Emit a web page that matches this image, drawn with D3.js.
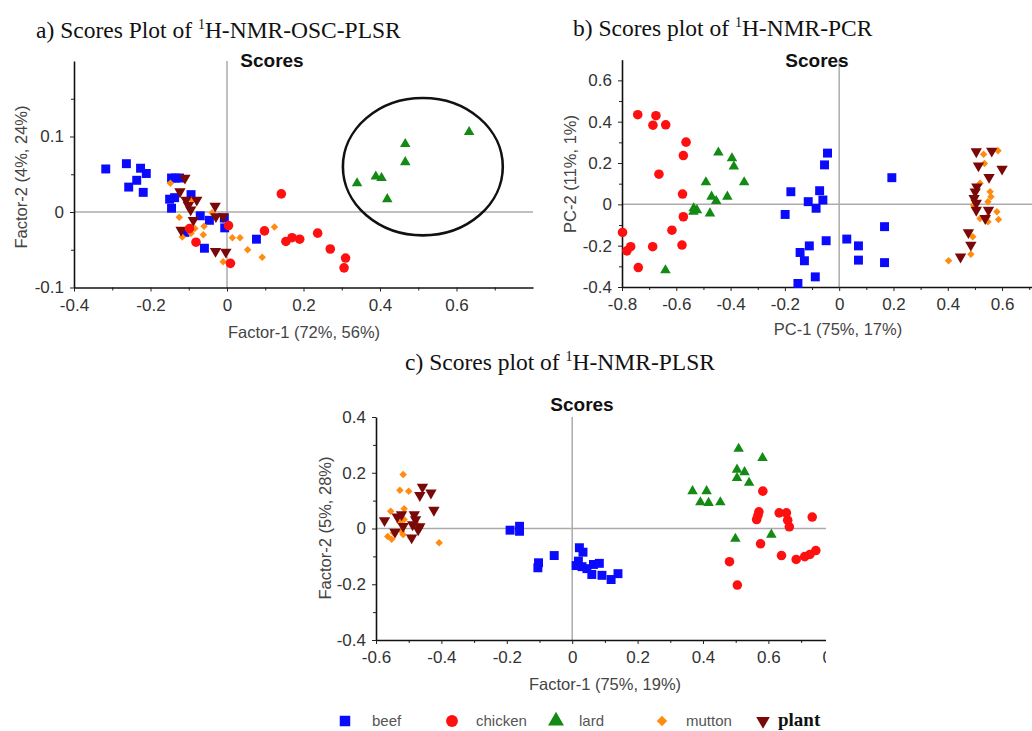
<!DOCTYPE html>
<html>
<head>
<meta charset="utf-8">
<script src="https://cdn.jsdelivr.net/npm/d3@7"></script>
<style>
  body { margin: 0; background: #fff; }
  svg { display: block; }
  .tick text { font-family: "Liberation Sans", Arial, sans-serif; }
</style>
</head>
<body>
<svg id="chart" width="1032" height="731"></svg>
<script>
// ---- categories / legend ----
const categories = ["beef", "chicken", "lard", "mutton", "plant"];
const legendLabels = ["beef", "chicken", "lard", "mutton", "plant"];

// ---- a) OSC-PLSR scores (Factor-1, Factor-2) ----
const oscBeef = [[-0.317,0.057],[-0.263,0.064],[-0.226,0.058],[-0.211,0.051],[-0.236,0.042],[-0.257,0.033],[-0.219,0.026],[-0.145,0.045],[-0.135,0.045],[-0.124,0.045],[-0.150,0.017],[-0.137,0.019],[-0.145,0.005],[-0.094,0.023],[-0.070,-0.005],[-0.046,-0.011],[-0.007,-0.008],[-0.006,-0.021],[-0.110,-0.027],[-0.059,-0.048],[0.077,-0.036]];
const oscChicken = [[0.142,0.024],[0.004,-0.018],[-0.098,-0.022],[-0.081,-0.040],[0.009,-0.068],[0.098,-0.025],[0.154,-0.039],[0.170,-0.034],[0.190,-0.036],[0.237,-0.028],[0.270,-0.049],[0.310,-0.061],[0.306,-0.074]];
const oscLard = [[0.340,0.038],[0.389,0.047],[0.404,0.045],[0.419,0.017],[0.466,0.066],[0.466,0.090],[0.633,0.106]];
const oscMutton = [[-0.148,0.038],[-0.092,0.016],[-0.125,-0.007],[-0.084,-0.022],[-0.060,-0.019],[-0.062,-0.030],[-0.117,-0.033],[-0.094,-0.028],[-0.039,-0.001],[0.014,-0.034],[0.034,-0.034],[0.054,-0.050],[0.092,-0.060],[0.124,-0.020],[-0.010,-0.066]];
const oscPlant = [[-0.110,0.045],[-0.123,0.027],[-0.107,0.016],[-0.079,0.016],[-0.095,0.003],[-0.101,0.009],[-0.088,-0.011],[-0.031,0.008],[-0.029,-0.006],[-0.010,-0.006],[-0.120,-0.024],[-0.030,-0.052],[-0.003,-0.053]];
// ellipse drawn round the lard group (centre and semi-axes in data units)
const lardEllipse = { cx: 0.512, cy: 0.060, rx: 0.209, ry: 0.091 };

// ---- b) PCR scores (PC-1, PC-2) ----
const pcrBeef = [[-0.043,0.248],[-0.054,0.191],[-0.178,0.061],[-0.072,0.066],[-0.114,0.013],[-0.060,0.021],[-0.085,-0.019],[-0.199,-0.049],[0.194,0.129],[0.167,-0.108],[-0.048,-0.176],[0.028,-0.168],[0.071,-0.201],[-0.110,-0.201],[-0.144,-0.233],[-0.128,-0.273],[0.071,-0.270],[0.167,-0.282],[-0.088,-0.351],[-0.152,-0.383]];
const pcrChicken = [[-0.742,0.434],[-0.675,0.429],[-0.686,0.383],[-0.639,0.385],[-0.564,0.301],[-0.574,0.236],[-0.664,0.146],[-0.577,0.050],[-0.574,-0.060],[-0.798,-0.136],[-0.768,-0.205],[-0.782,-0.225],[-0.687,-0.205],[-0.616,-0.125],[-0.579,-0.197],[-0.740,-0.306]];
const pcrLard = [[-0.445,0.251],[-0.395,0.223],[-0.388,0.183],[-0.491,0.107],[-0.350,0.107],[-0.470,0.037],[-0.453,0.016],[-0.412,0.037],[-0.536,-0.019],[-0.524,-0.028],[-0.537,-0.036],[-0.476,-0.044],[-0.640,-0.319]];
const pcrMutton = [[0.532,0.242],[0.585,0.259],[0.535,0.198],[0.519,0.102],[0.556,0.061],[0.559,0.037],[0.548,0.013],[0.581,-0.036],[0.587,-0.073],[0.519,-0.068],[0.544,-0.063],[0.548,-0.084],[0.492,-0.157],[0.485,-0.241],[0.403,-0.273],[0.495,-0.003]];
const pcrPlant = [[0.505,0.255],[0.562,0.258],[0.513,0.187],[0.600,0.171],[0.552,0.131],[0.507,0.085],[0.501,0.061],[0.497,0.029],[0.505,0.006],[0.505,-0.028],[0.550,-0.028],[0.538,-0.068],[0.476,-0.136],[0.485,-0.197],[0.447,-0.254]];

// ---- c) PLSR scores (Factor-1, Factor-2) ----
const plsrBeef = [[-0.190,-0.006],[-0.161,0.008],[-0.161,-0.010],[-0.055,-0.097],[-0.103,-0.123],[-0.105,-0.141],[0.022,-0.069],[0.033,-0.085],[0.019,-0.117],[0.012,-0.133],[0.030,-0.137],[0.045,-0.144],[0.065,-0.129],[0.083,-0.125],[0.060,-0.165],[0.091,-0.168],[0.119,-0.183],[0.140,-0.162]];
const plsrChicken = [[0.583,0.134],[0.571,0.060],[0.568,0.047],[0.564,0.032],[0.633,0.056],[0.655,0.056],[0.659,0.030],[0.664,0.006],[0.734,0.041],[0.576,-0.055],[0.481,-0.119],[0.505,-0.203],[0.640,-0.097],[0.685,-0.111],[0.711,-0.101],[0.727,-0.093],[0.745,-0.079]];
const plsrLard = [[0.509,0.286],[0.582,0.253],[0.504,0.211],[0.527,0.202],[0.504,0.181],[0.541,0.164],[0.368,0.134],[0.411,0.134],[0.392,0.094],[0.417,0.092],[0.453,0.094],[0.499,-0.037],[0.609,-0.022]];
const plsrMutton = [[-0.517,0.194],[-0.527,0.137],[-0.500,0.134],[-0.555,0.062],[-0.514,0.071],[-0.514,0.032],[-0.471,0.011],[-0.547,-0.015],[-0.517,-0.022],[-0.552,-0.039],[-0.494,-0.033],[-0.407,-0.051],[-0.522,-0.010],[-0.564,-0.029],[-0.527,0.022]];
const plsrPlant = [[-0.458,0.149],[-0.466,0.119],[-0.432,0.128],[-0.423,0.066],[-0.574,0.029],[-0.535,0.042],[-0.522,0.050],[-0.483,0.050],[-0.479,0.032],[-0.488,0.014],[-0.517,0.008],[-0.542,-0.013],[-0.471,-0.004],[-0.491,-0.033],[-0.466,0.007]];

// ---- tick values ----
const aXTicks = [-0.4, -0.2, 0, 0.2, 0.4, 0.6];
const aYTicks = [-0.1, 0, 0.1];
const bXTicks = [-0.8, -0.6, -0.4, -0.2, 0, 0.2, 0.4, 0.6];
const bYTicks = [-0.4, -0.2, 0, 0.2, 0.4, 0.6];
const cXTicks = [-0.6, -0.4, -0.2, 0, 0.2, 0.4, 0.6, 0.8];
const cYTicks = [-0.4, -0.2, 0, 0.2, 0.4];

// ---- styling ----
const SANS = '"Liberation Sans", Arial, sans-serif';
const SERIF = '"Liberation Serif", "Times New Roman", serif';
const color = { beef: "#0a0aff", chicken: "#ff1010", lard: "#138a13", mutton: "#ff8c10", plant: "#7a0808" };
// mutton uses a square turned 45 degrees (a square diamond); plant uses an inverted triangle
const symbolType = { beef: d3.symbolSquare, chicken: d3.symbolCircle, lard: d3.symbolTriangle, mutton: d3.symbolSquare, plant: d3.symbolTriangle };
const symbolRotate = { beef: 0, chicken: 0, lard: 0, mutton: 45, plant: 180 };
const symbolSize = { beef: 80, chicken: 72, lard: 48, mutton: 28, plant: 56 };

const svg = d3.select("#chart");
const defs = svg.append("defs");

const fmt = d => d === 0 ? "0" : String(+d.toFixed(2));
const steps = (a, b, s) => d3.range(Math.round((b - a) / s) + 1).map(i => +(a + i * s).toFixed(3));

function drawPanel(cfg) {
  const g = svg.append("g");
  if (cfg.clipX) {
    defs.append("clipPath").attr("id", cfg.id + "-clip")
      .append("rect").attr("x", 0).attr("y", 0).attr("width", cfg.clipX).attr("height", 731);
    g.attr("clip-path", `url(#${cfg.id}-clip)`);
  }
  const x = d3.scaleLinear().domain(cfg.xDomain).range(cfg.xRange);
  const y = d3.scaleLinear().domain(cfg.yDomain).range(cfg.yRange);
  const [yBottom, yTop] = cfg.yRange;
  const [xLeft, xRight] = cfg.xRange;

  // zero reference lines
  g.append("line").attr("x1", x(0)).attr("x2", x(0)).attr("y1", yTop).attr("y2", yBottom)
    .attr("stroke", "#ababab").attr("stroke-width", 1.5);
  g.append("line").attr("x1", xLeft).attr("x2", xRight).attr("y1", y(0)).attr("y2", y(0))
    .attr("stroke", "#ababab").attr("stroke-width", 1.5);

  // minor ticks
  g.append("g").attr("transform", `translate(0,${yBottom})`)
    .call(d3.axisBottom(x).tickValues(cfg.xMinor).tickSize(3).tickFormat(""))
    .call(a => a.select(".domain").remove())
    .call(a => a.selectAll("line").attr("stroke", "#222"));
  g.append("g").attr("transform", `translate(${xLeft},0)`)
    .call(d3.axisLeft(y).tickValues(cfg.yMinor).tickSize(3).tickFormat(""))
    .call(a => a.select(".domain").remove())
    .call(a => a.selectAll("line").attr("stroke", "#222"));

  // major axes
  g.append("g").attr("transform", `translate(0,${yBottom})`)
    .call(d3.axisBottom(x).tickValues(cfg.xTicks).tickSize(4).tickSizeOuter(0).tickPadding(7).tickFormat(fmt))
    .call(a => a.select(".domain").attr("stroke", "#111").attr("stroke-width", 1.6))
    .call(a => a.selectAll(".tick line").attr("stroke", "#222"))
    .call(a => a.selectAll(".tick text").attr("font-size", 17).attr("fill", "#333"));
  g.append("g").attr("transform", `translate(${xLeft},0)`)
    .call(d3.axisLeft(y).tickValues(cfg.yTicks).tickSize(4).tickSizeOuter(0).tickPadding(6).tickFormat(fmt))
    .call(a => a.select(".domain").attr("stroke", "#111").attr("stroke-width", 1.6))
    .call(a => a.selectAll(".tick line").attr("stroke", "#222"))
    .call(a => a.selectAll(".tick text").attr("font-size", 17).attr("fill", "#333"));

  // extra decoration (ellipse)
  if (cfg.ellipse) {
    const e = cfg.ellipse;
    g.append("ellipse")
      .attr("cx", x(e.cx)).attr("cy", y(e.cy))
      .attr("rx", x(e.cx + e.rx) - x(e.cx)).attr("ry", y(e.cy - e.ry) - y(e.cy))
      .attr("fill", "none").attr("stroke", "#111").attr("stroke-width", 2.6);
  }

  // score points
  cfg.series.forEach(([cat, data]) => {
    const sym = d3.symbol().type(symbolType[cat]).size(symbolSize[cat]);
    g.append("g").selectAll("path").data(data).join("path")
      .attr("transform", d => `translate(${x(d[0])},${y(d[1])}) rotate(${symbolRotate[cat]})`)
      .attr("d", sym)
      .attr("fill", color[cat]);
  });

  // "Scores" heading
  svg.append("text").attr("x", cfg.scoresX).attr("y", cfg.scoresY)
    .attr("text-anchor", "middle").attr("font-family", SANS).attr("font-weight", "bold")
    .attr("font-size", 19).attr("fill", "#111").text("Scores");

  // axis titles
  svg.append("text").attr("x", cfg.xLabelPos[0]).attr("y", cfg.xLabelPos[1])
    .attr("text-anchor", "middle").attr("font-family", SANS).attr("font-size", 16.5)
    .attr("fill", "#444").text(cfg.xLabel);
  svg.append("text").attr("transform", `translate(${cfg.yLabelPos[0]},${cfg.yLabelPos[1]}) rotate(-90)`)
    .attr("text-anchor", "middle").attr("font-family", SANS).attr("font-size", 16.5)
    .attr("fill", "#444").text(cfg.yLabel);

  // panel title with superscript
  const t = svg.append("text").attr("x", cfg.titlePos[0]).attr("y", cfg.titlePos[1])
    .attr("font-family", SERIF).attr("font-size", 23.5).attr("fill", "#111");
  t.append("tspan").text(cfg.titlePre);
  t.append("tspan").attr("font-size", 14).attr("dy", -9).text("1");
  t.append("tspan").attr("dy", 9).text(cfg.titlePost);
}

drawPanel({
  id: "osc",
  xDomain: [-0.4, 0.8], xRange: [74, 533],
  yDomain: [-0.1, 0.2], yRange: [287.5, 61],
  xTicks: aXTicks, xMinor: steps(-0.3, 0.7, 0.2),
  yTicks: aYTicks, yMinor: [-0.05, 0.05, 0.15],
  series: [["beef", oscBeef], ["mutton", oscMutton], ["plant", oscPlant], ["chicken", oscChicken], ["lard", oscLard]],
  ellipse: lardEllipse,
  scoresX: 272, scoresY: 67,
  xLabel: "Factor-1 (72%, 56%)", xLabelPos: [304, 338],
  yLabel: "Factor-2 (4%, 24%)", yLabelPos: [27, 177],
  titlePre: "a) Scores Plot of ", titlePost: "H-NMR-OSC-PLSR", titlePos: [36, 38]
});

drawPanel({
  id: "pcr",
  xDomain: [-0.8, 0.76], xRange: [622, 1045.5],
  yDomain: [-0.4, 0.7], yRange: [287, 59.7],
  xTicks: bXTicks, xMinor: steps(-0.7, 0.7, 0.2),
  yTicks: bYTicks, yMinor: steps(-0.3, 0.5, 0.2),
  series: [["beef", pcrBeef], ["chicken", pcrChicken], ["lard", pcrLard], ["mutton", pcrMutton], ["plant", pcrPlant]],
  scoresX: 817, scoresY: 67,
  xLabel: "PC-1 (75%, 17%)", xLabelPos: [838, 335],
  yLabel: "PC-2 (11%, 1%)", yLabelPos: [576, 174],
  titlePre: "b) Scores plot of ", titlePost: "H-NMR-PCR", titlePos: [573, 36]
});

drawPanel({
  id: "plsr",
  xDomain: [-0.6, 0.8], xRange: [376, 833.8],
  yDomain: [-0.4, 0.4], yRange: [640, 417],
  xTicks: cXTicks, xMinor: steps(-0.5, 0.7, 0.2),
  yTicks: cYTicks, yMinor: steps(-0.3, 0.3, 0.2),
  clipX: 826,
  series: [["beef", plsrBeef], ["mutton", plsrMutton], ["plant", plsrPlant], ["lard", plsrLard], ["chicken", plsrChicken]],
  scoresX: 582, scoresY: 411,
  xLabel: "Factor-1 (75%, 19%)", xLabelPos: [605, 690],
  yLabel: "Factor-2 (5%, 28%)", yLabelPos: [331, 528],
  titlePre: "c) Scores plot of ", titlePost: "H-NMR-PLSR", titlePos: [405, 370]
});

// ---- legend ----
const legendX = { beef: [345, 372], chicken: [452, 476], lard: [556, 579], mutton: [662, 686], plant: [763, 778] };
const legendSize = { beef: 110, chicken: 110, lard: 110, mutton: 55, plant: 80 };
const lg = svg.append("g");
categories.forEach((cat, i) => {
  const [sx, tx] = legendX[cat];
  lg.append("path")
    .attr("transform", `translate(${sx},721) rotate(${symbolRotate[cat]})`)
    .attr("d", d3.symbol().type(symbolType[cat]).size(legendSize[cat]))
    .attr("fill", color[cat]);
  const isPlant = cat === "plant";
  lg.append("text").attr("x", tx).attr("y", 726)
    .attr("font-family", isPlant ? SERIF : SANS)
    .attr("font-weight", isPlant ? "bold" : "normal")
    .attr("font-size", isPlant ? 19 : 15)
    .attr("fill", isPlant ? "#111" : "#555")
    .text(legendLabels[i]);
});
</script>
</body>
</html>
